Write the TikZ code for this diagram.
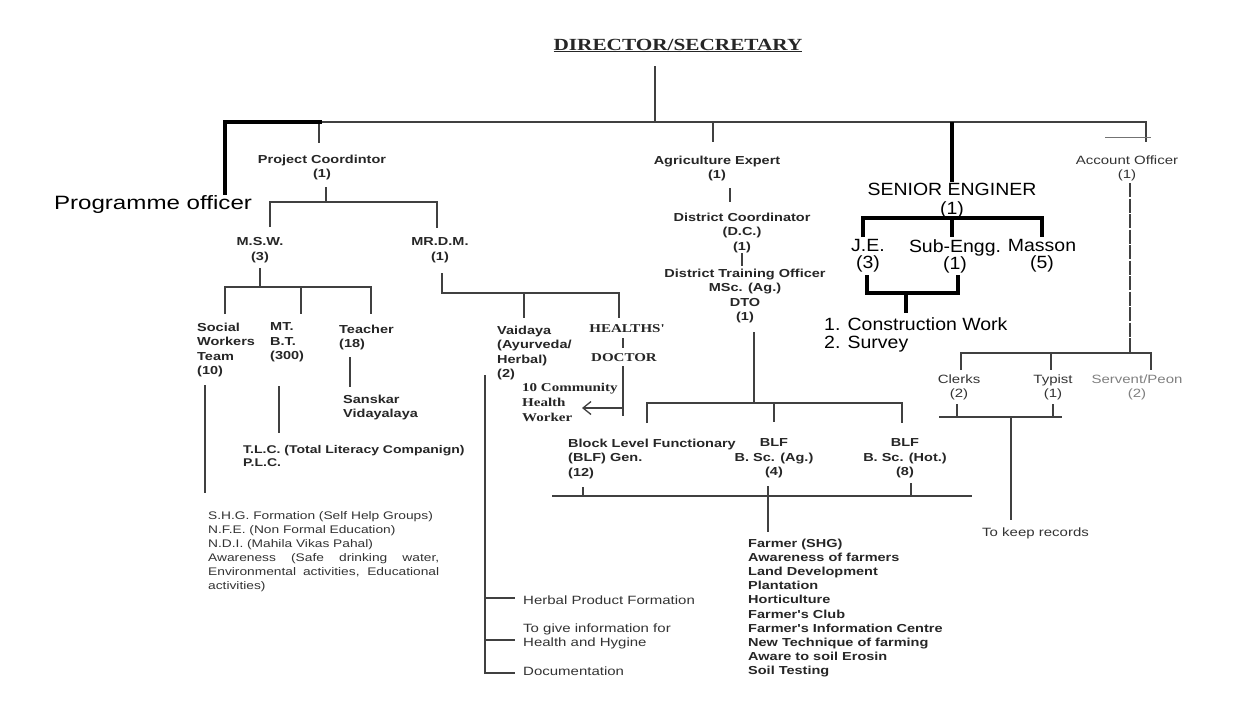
\documentclass[tikz,border=0pt]{standalone}
\usepackage{fontspec}
\setmainfont{Liberation Serif}
\newfontfamily\scanfont[FakeStretch=1.25]{Liberation Sans}
\newfontfamily\addfont[FakeStretch=1.1]{Liberation Sans}
\newfontfamily\pofont[FakeStretch=1.25]{Liberation Sans}
\newfontfamily\oldfont[FakeStretch=1.25]{Liberation Serif}
\usetikzlibrary{arrows.meta}

\tikzset{
  ln/.style={draw=black!75, line width=1.3pt},
  thk/.style={draw=black, line width=3.8pt},
  sc/.style={inner sep=0pt, text=black!85, font=\scanfont\fontsize{11.6}{14.5}\selectfont\bfseries},
  scr/.style={inner sep=0pt, text=black!80, font=\scanfont\fontsize{12}{14.5}\selectfont},
  tm/.style={inner sep=0pt, text=black!85, font=\oldfont\fontsize{12}{15}\selectfont\bfseries},
  add/.style={inner sep=0pt, text=black, font=\addfont\fontsize{17.7}{17}\selectfont},
}

\begin{document}
\begin{tikzpicture}[x=1pt,y=-1pt]
\useasboundingbox[fill=white] (0,0) rectangle (1247,726);

% head
\node[tm, font=\oldfont\fontsize{17}{17}\selectfont\bfseries, anchor=base] (dir) at (678,50) {\underline{DIRECTOR/SECRETARY}};
\node[anchor=base, inner sep=0pt, font=\pofont\fontsize{19.3}{20}\selectfont] (po) at (153,209) {Programme officer};

% project coordinator side
\node[sc, align=center, anchor=north] (pc) at (322,154.5) {Project Coordintor\\(1)};
\node[sc, align=center, anchor=north] (msw) at (260,237.5) {M.S.W.\\(3)};
\node[sc, align=center, anchor=north] (mrdm) at (440,237.5) {MR.D.M.\\(1)};
\node[sc, align=left, anchor=north west] (sw) at (197,322.5) {Social\\Workers\\Team\\(10)};
\node[sc, align=left, anchor=north west] (mt) at (270,322.5) {MT.\\B.T.\\(300)};
\node[sc, align=left, anchor=north west] (teach) at (339,324.5) {Teacher\\(18)};
\node[sc, align=left, anchor=north west] (sansk) at (343,394.5) {Sanskar\\Vidayalaya};
\node[sc, align=left, anchor=north west] (vaid) at (497,325.5) {Vaidaya\\(Ayurveda/\\Herbal)\\(2)};
\node[sc, align=left, anchor=north west, font=\scanfont\fontsize{11.2}{13}\selectfont\bfseries] (tlc) at (243,445.5) {T.L.C. (Total Literacy Companign)\\P.L.C.};
\node[scr, align=left, anchor=north west, font=\scanfont\fontsize{11}{14}\selectfont] (shg) at (208,511.5) {S.H.G. Formation (Self Help Groups)\\N.F.E. (Non Formal Education)\\N.D.I. (Mahila Vikas Pahal)\\\makebox[231pt][s]{Awareness (Safe drinking water,}\\\makebox[231pt][s]{Environmental activities, Educational}\\activities)};
\node[scr, anchor=base west] (herb) at (523,604) {Herbal Product Formation};
\node[scr, align=left, anchor=north west] (info) at (523,623.5) {To give information for\\Health and Hygine};
\node[scr, anchor=base west] (docu) at (523,675) {Documentation};
\node[tm, anchor=base] (hlth) at (627,332) {HEALTHS'};
\node[tm, anchor=base] (doct) at (624,361) {DOCTOR};
\node[tm, align=left, anchor=north west] (chw) at (522,383) {10 Community\\Health\\Worker};

% agriculture side
\node[sc, align=center, anchor=north] (agri) at (717,155.5) {Agriculture Expert\\(1)};
\node[sc, align=center, anchor=north] (dc) at (742,212.5) {District Coordinator\\(D.C.)\\(1)};
\node[sc, align=center, anchor=north] (dto) at (745,268.5) {District Training Officer\\MSc. (Ag.)\\DTO\\(1)};
\node[sc, align=left, anchor=north west] (blfgen) at (568,438.5) {Block Level Functionary\\(BLF) Gen.\\(12)};
\node[sc, align=center, anchor=north] (blfag) at (774,438.5) {BLF\\B. Sc. (Ag.)\\(4)};
\node[sc, align=center, anchor=north] (blfhot) at (905,438.5) {BLF\\B. Sc. (Hot.)\\(8)};
\node[sc, align=left, anchor=north west, font=\scanfont\fontsize{11.6}{14.2}\selectfont\bfseries] (farm) at (748,538.5) {Farmer (SHG)\\Awareness of farmers\\Land Development\\Plantation\\Horticulture\\Farmer's Club\\Farmer's Information Centre\\New Technique of farming\\Aware to soil Erosin\\Soil Testing};

% engineer side
\node[add, align=center, anchor=north, font=\addfont\fontsize{17.7}{19}\selectfont] (se) at (952,183.3) {SENIOR ENGINER\\(1)};
\node[add, align=center, anchor=north] (je) at (868,239.3) {J.E.\\(3)};
\node[add, align=center, anchor=north] (sub) at (955,239.3) {Sub-Engg.\\(1)};
\node[add, align=center, anchor=north] (mas) at (1042,239.3) {Masson\\(5)};
\node[add, align=left, anchor=north west, font=\addfont\fontsize{17.7}{18}\selectfont] (cw) at (824,317.3) {1. Construction Work\\2. Survey};

% account side
\node[scr, align=center, anchor=north] (acc) at (1127,155.5) {Account Officer\\(1)};
\node[scr, align=center, anchor=north] (clerk) at (959,374.5) {Clerks\\(2)};
\node[scr, align=center, anchor=north] (typ) at (1053,374.5) {Typist\\(1)};
\node[scr, align=center, anchor=north, text=black!50] (peon) at (1137,374.5) {Servent/Peon\\(2)};
\node[scr, anchor=base west] (rec) at (982,536) {To keep records};

% junction points
\coordinate (dir-s) at (655,66);
\coordinate (bus-d) at (655,122);
\coordinate (bus-l) at (225,122);
\coordinate (bus-pc) at (319,122);
\coordinate (bus-pct) at (322,122);
\coordinate (bus-ag) at (713,122);
\coordinate (bus-se) at (952,122);
\coordinate (bus-r) at (1146,122);
\coordinate (po-n) at (225,195);
\coordinate (pc-n) at (319,143);
\coordinate (ag-n) at (713,142);
\coordinate (se-n) at (952,182);
\coordinate (ac-n) at (1146,142);
\coordinate (tick-l) at (1105,137);
\coordinate (tick-r) at (1151,137);

\coordinate (pc-s) at (326,187);
\coordinate (pc-b) at (326,202);
\coordinate (pcb-l) at (270,202);
\coordinate (pcb-r) at (437,202);
\coordinate (msw-n) at (270,227);
\coordinate (mrdm-n) at (437,228);

\coordinate (msw-s) at (260,268);
\coordinate (msw-b) at (260,287);
\coordinate (mswb-l) at (225,287);
\coordinate (mswb-m) at (301,287);
\coordinate (mswb-r) at (371,287);
\coordinate (sw-n) at (225,314);
\coordinate (mt-n) at (301,314);
\coordinate (teach-n) at (371,314);

\coordinate (mrdm-s) at (442,273);
\coordinate (mrdm-b) at (442,293);
\coordinate (mrdmb-m) at (524,293);
\coordinate (mrdmb-r) at (619,293);
\coordinate (vaid-n) at (524,318);
\coordinate (hlth-n) at (619,318);

\coordinate (hlth-s) at (623,338);
\coordinate (doct-n) at (623,348);
\coordinate (doct-s) at (623,366);
\coordinate (doct-e) at (623,416);
\coordinate (chw-j) at (623,408);
\coordinate (chw-a) at (582,408);

\coordinate (teach-s) at (350,357);
\coordinate (sansk-n) at (350,387);
\coordinate (mt-s) at (279,386);
\coordinate (tlc-n) at (279,433);
\coordinate (sw-s) at (205,385);
\coordinate (shg-n) at (205,493);

\coordinate (vaid-s) at (485,375);
\coordinate (vaid-e) at (485,673);
\coordinate (vaid-h) at (485,598);
\coordinate (vaid-i) at (485,640);
\coordinate (herb-w) at (515,598);
\coordinate (info-w) at (515,640);
\coordinate (docu-w) at (515,673);

\coordinate (ag-s) at (730,188);
\coordinate (dc-n) at (730,202);
\coordinate (dc-s) at (742,253);
\coordinate (dto-n) at (742,266);
\coordinate (dto-s) at (754,332);
\coordinate (dto-b) at (754,403);
\coordinate (dtob-l) at (647,403);
\coordinate (dtob-m) at (774,403);
\coordinate (dtob-r) at (902,403);
\coordinate (blfgen-n) at (647,423);
\coordinate (blfag-n) at (774,422);
\coordinate (blfhot-n) at (902,423);

\coordinate (blf-l) at (552,496);
\coordinate (blf-r) at (972,496);
\coordinate (blfgen-s) at (583,487);
\coordinate (blfgen-b) at (583,496);
\coordinate (blfag-s) at (768,486);
\coordinate (farm-n) at (768,532);
\coordinate (blfhot-s) at (911,483);
\coordinate (blfhot-b) at (911,496);

\coordinate (seb-l) at (863,218);
\coordinate (seb-m) at (952,218);
\coordinate (seb-r) at (1042,218);
\coordinate (je-n) at (863,237);
\coordinate (sub-n) at (952,237);
\coordinate (mas-n) at (1042,237);
\coordinate (je-s) at (867,275);
\coordinate (sub-s) at (958,275);
\coordinate (cwb-l) at (867,293);
\coordinate (cwb-r) at (958,293);
\coordinate (cwb-m) at (906,293);
\coordinate (cw-n) at (906,313);

\coordinate (acc-s) at (1130,183);
\coordinate (acc-b) at (1130,353);
\coordinate (accb-l) at (961,353);
\coordinate (accb-m) at (1051,353);
\coordinate (accb-r) at (1151,353);
\coordinate (clerk-n) at (961,370);
\coordinate (typ-n) at (1051,370);
\coordinate (peon-n) at (1151,370);
\coordinate (clerk-s) at (957,404);
\coordinate (clerk-b) at (957,417);
\coordinate (typ-s) at (1053,404);
\coordinate (typ-b) at (1053,417);
\coordinate (recb-l) at (939,417);
\coordinate (recb-r) at (1062,417);
\coordinate (recb-m) at (1011,417);
\coordinate (rec-n) at (1011,520);

% thin connectors
\draw[ln] (dir-s) -- (bus-d);
\draw[ln] (bus-l) -- (bus-r) -- (ac-n);
\draw[ln, draw=black!55, line width=1pt] (tick-l) -- (tick-r);
\draw[ln] (bus-pc) -- (pc-n);
\draw[ln] (bus-ag) -- (ag-n);

\draw[ln] (pc-s) -- (pc-b);
\draw[ln] (msw-n) -- (pcb-l) -- (pcb-r) -- (mrdm-n);
\draw[ln] (msw-s) -- (msw-b);
\draw[ln] (sw-n) -- (mswb-l) -- (mswb-r) -- (teach-n);
\draw[ln] (mswb-m) -- (mt-n);
\draw[ln] (mrdm-s) -- (mrdm-b) -- (mrdmb-r) -- (hlth-n);
\draw[ln] (mrdmb-m) -- (vaid-n);
\draw[ln] (hlth-s) -- (doct-n);
\draw[ln] (doct-s) -- (doct-e);
\draw[ln, -{Straight Barb[length=8pt,width=13pt]}] (chw-j) -- (chw-a);
\draw[ln] (teach-s) -- (sansk-n);
\draw[ln] (mt-s) -- (tlc-n);
\draw[ln] (sw-s) -- (shg-n);
\draw[ln] (vaid-s) -- (vaid-e) -- (docu-w);
\draw[ln] (vaid-h) -- (herb-w);
\draw[ln] (vaid-i) -- (info-w);

\draw[ln] (ag-s) -- (dc-n);
\draw[ln] (dc-s) -- (dto-n);
\draw[ln] (dto-s) -- (dto-b);
\draw[ln] (blfgen-n) -- (dtob-l) -- (dtob-r) -- (blfhot-n);
\draw[ln] (dtob-m) -- (blfag-n);
\draw[ln] (blf-l) -- (blf-r);
\draw[ln] (blfgen-s) -- (blfgen-b);
\draw[ln] (blfag-s) -- (farm-n);
\draw[ln] (blfhot-s) -- (blfhot-b);

\draw[ln, dash pattern=on 14pt off 1.5pt] (acc-s) -- (acc-b);
\draw[ln] (clerk-n) -- (accb-l) -- (accb-r) -- (peon-n);
\draw[ln] (accb-m) -- (typ-n);
\draw[ln] (clerk-s) -- (clerk-b);
\draw[ln] (typ-s) -- (typ-b);
\draw[ln] (recb-l) -- (recb-r);
\draw[ln] (recb-m) -- (rec-n);

% thick connectors
\draw[thk] (po-n) -- (bus-l) -- (bus-pct);
\draw[thk] (bus-se) -- (se-n);
\draw[thk] (je-n) -- (seb-l) -- (seb-r) -- (mas-n);
\draw[thk] (seb-m) -- (sub-n);
\draw[thk] (je-s) -- (cwb-l) -- (cwb-r) -- (sub-s);
\draw[thk] (cwb-m) -- (cw-n);
\end{tikzpicture}
\end{document}
